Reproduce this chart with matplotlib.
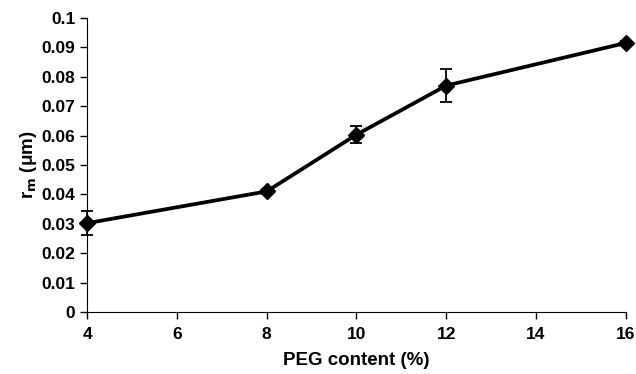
import matplotlib
matplotlib.use("Agg")
import matplotlib.pyplot as plt

peg_content = [4, 8, 10, 12, 16]
r_m = [0.0302, 0.0410, 0.0603, 0.0770, 0.0915]
r_m_err = [0.0040, 0.0008, 0.0028, 0.0057, 0.0005]

plt.rcParams['font.family'] = ['Liberation Sans', 'DejaVu Sans']
plt.rcParams['font.weight'] = 'bold'

fig = plt.figure(figsize=(6.36, 3.74), dpi=100)
ax = fig.add_axes([0.137, 0.166, 0.847, 0.786])

ax.errorbar(peg_content, r_m, yerr=r_m_err, color='black', linewidth=2.7,
            marker='D', markersize=8.5, elinewidth=1.3, capsize=4, capthick=1.3,
            clip_on=False, zorder=5)

ax.set_xlim(4, 16)
ax.set_ylim(0, 0.1)
ax.set_xticks([4, 6, 8, 10, 12, 14, 16])
ax.set_yticks([0, 0.01, 0.02, 0.03, 0.04, 0.05, 0.06, 0.07, 0.08, 0.09, 0.1])
ax.set_yticklabels(['0', '0.01', '0.02', '0.03', '0.04', '0.05', '0.06',
                    '0.07', '0.08', '0.09', '0.1'])
ax.spines['top'].set_visible(False)
ax.spines['right'].set_visible(False)
ax.tick_params(direction='out', length=5, width=1, labelsize=12.5)
ax.tick_params(axis='x', pad=6)
for lbl in ax.get_xticklabels() + ax.get_yticklabels():
    lbl.set_fontweight('bold')

ax.set_xlabel('PEG content (%)', fontsize=13.5, fontweight='bold', labelpad=7)
ax.set_ylabel(r'r$_\mathbf{m}$ (μm)', fontsize=13.5, fontweight='bold', labelpad=2)

fig.savefig('out.png', dpi=100)
